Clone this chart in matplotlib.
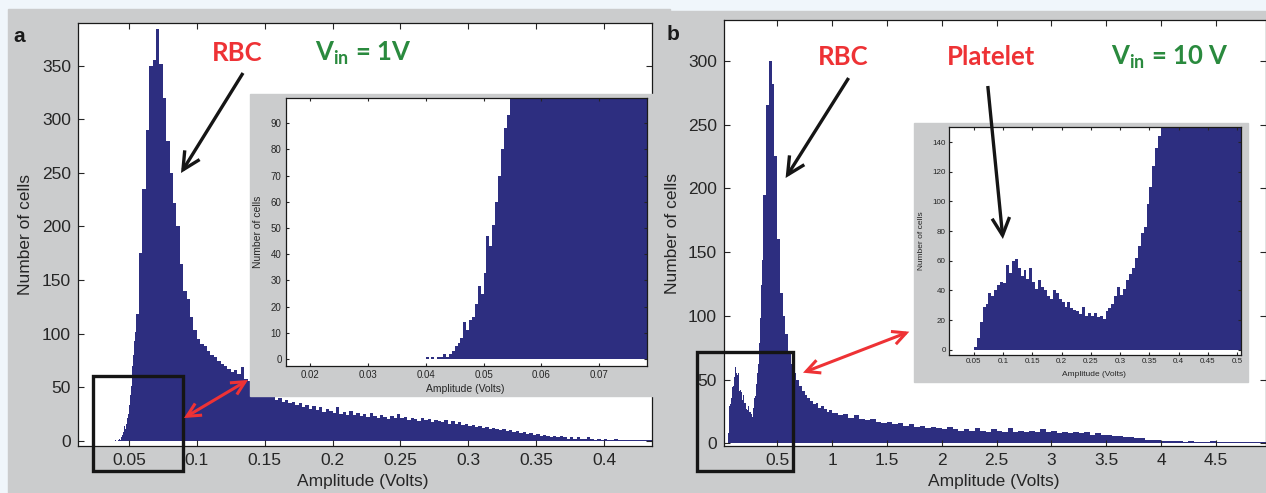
import numpy as np
import matplotlib
matplotlib.use('Agg')
import matplotlib.pyplot as plt
from matplotlib.patches import Rectangle, FancyArrowPatch

W, H = 1266, 493

# panel a (Vin = 1 V): fine bins on the rising edge, coarser bins after
a_fine_start, a_fine_step = 0.040, 0.0005
a_fine_counts = [1, 0, 1, 0, 1, 1, 2, 1, 2, 3,
                 5, 6, 8, 14, 11, 15, 16, 21, 28, 25,
                 33, 47, 43, 51, 60, 70, 80, 88, 93, 101]
a_start, a_step = 0.055, 0.0025
a_counts = [118, 175, 235, 290, 350, 355, 384, 352, 320, 280,
            250, 222, 200, 165, 140, 132, 115, 103, 95, 90,
            88, 84, 80, 78, 74, 72, 70, 67, 64, 66,
            62, 69, 58, 56, 54, 52, 50, 47, 45, 43,
            42, 38, 40, 36, 38, 35, 36, 33, 35, 31,
            33, 30, 32, 29, 31, 27, 30, 28, 26, 31,
            25, 27, 24, 28, 24, 26, 23, 25, 22, 26,
            23, 21, 24, 22, 20, 23, 21, 25, 21, 22,
            19, 21, 20, 18, 21, 19, 20, 17, 19, 18,
            17, 19, 16, 18, 16, 17, 15, 16, 14, 15,
            13, 14, 12, 13, 11, 12, 11, 10, 11, 9,
            10, 8, 9, 7, 8, 6, 7, 5, 6, 4,
            5, 4, 3, 4, 3, 4, 3, 2, 3, 2,
            3, 2, 2, 3, 2, 1, 2, 1, 2, 1,
            1, 2, 1, 1, 1, 1, 1, 1, 1, 1,
            1, 1]

# panel b (Vin = 10 V)
b_fine_start, b_fine_step = 0.050, 0.005
b_fine_counts = [2, 8, 19, 29, 31, 38, 36, 40, 44, 46,
                 45, 57, 52, 60, 61, 55, 50, 54, 48, 55,
                 46, 41, 47, 42, 40, 36, 34, 40, 38, 34,
                 32, 29, 32, 28, 27, 26, 24, 29, 23, 25,
                 23, 25, 22, 23, 21, 26, 28, 31, 36, 42,
                 37, 41, 47, 51, 55, 62, 70, 79, 83, 98,
                 110, 124, 136, 144, 150]
b_mid_start, b_mid_step = 0.375, 0.025
b_mid_counts = [195, 265, 300, 282, 225, 160, 118, 100, 86, 72,
                62, 55, 50, 45, 41, 38, 36, 33, 31, 32,
                28, 29, 27, 25, 26]
b_tail_start, b_tail_step = 1.0, 0.05
b_tail_counts = [24, 22, 23, 20, 22, 19, 18, 19, 17, 16,
                 17, 15, 16, 14, 15, 13, 14, 12, 13, 12,
                 11, 13, 11, 10, 11, 10, 12, 10, 9, 11,
                 10, 9, 12, 9, 10, 9, 10, 9, 11, 9,
                 10, 8, 9, 8, 9, 8, 9, 7, 8, 7,
                 7, 6, 6, 5, 5, 4, 4, 3, 3, 3,
                 2, 2, 2, 2, 1, 2, 1, 1, 1, 2,
                 1, 1, 1, 1, 1, 1, 1, 1, 1, 1]

a_xticks = [0.05, 0.1, 0.15, 0.2, 0.25, 0.3, 0.35, 0.4]
a_yticks = [0, 50, 100, 150, 200, 250, 300, 350]
a_in_xticks = [0.02, 0.03, 0.04, 0.05, 0.06, 0.07]
a_in_yticks = [0, 10, 20, 30, 40, 50, 60, 70, 80, 90]
b_xticks = [0.5, 1, 1.5, 2, 2.5, 3, 3.5, 4, 4.5]
b_yticks = [0, 50, 100, 150, 200, 250, 300]
b_in_xticks = [0.05, 0.1, 0.15, 0.2, 0.25, 0.3, 0.35, 0.4, 0.45, 0.5]
b_in_yticks = [0, 20, 40, 60, 80, 100, 120, 140]

NAVY = '#2d2e80'
GRAY = '#cbcccd'
RED = '#ee3235'
GREEN = '#2a8a3e'
INK = '#262626'


def edges(start, step, n):
    return start + step * np.arange(n + 1)


a_edges = np.concatenate([edges(a_fine_start, a_fine_step, len(a_fine_counts))[:-1],
                          edges(a_start, a_step, len(a_counts))])
a_all = np.array(a_fine_counts + a_counts, dtype=float)
b_edges = np.concatenate([edges(b_fine_start, b_fine_step, len(b_fine_counts))[:-1],
                          edges(b_mid_start, b_mid_step, len(b_mid_counts))[:-1],
                          edges(b_tail_start, b_tail_step, len(b_tail_counts))])
b_all = np.array(b_fine_counts + b_mid_counts + b_tail_counts, dtype=float)

plt.rcParams['font.family'] = ['Liberation Sans', 'DejaVu Sans']
plt.rcParams['mathtext.fontset'] = 'custom'
plt.rcParams['mathtext.rm'] = 'Lato:bold'
plt.rcParams['mathtext.bf'] = 'Lato:bold'

fig = plt.figure(figsize=(W / 100, H / 100), dpi=100, facecolor='#f0f6fb')


def rect(l, t, r, b):
    return [l / W, 1 - b / H, (r - l) / W, (b - t) / H]


def px(x, y):
    return (x / W, 1 - y / H)


def style(ax, fs, ticklen, pad):
    ax.tick_params(direction='in', top=True, right=True, length=ticklen,
                   width=0.8, labelsize=fs, colors=INK, pad=pad)
    for s in ax.spines.values():
        s.set_color('#1a1a1a')
        s.set_linewidth(0.9)


# gray panel backgrounds
fig.add_artist(Rectangle(px(8, 493), 662 / W, 484 / H, transform=fig.transFigure,
                         color=GRAY, zorder=-2))
fig.add_artist(Rectangle(px(670, 493), 596 / W, 482 / H, transform=fig.transFigure,
                         color=GRAY, zorder=-2))

# ---- panel a main
axa = fig.add_axes(rect(78, 23, 651.5, 446), zorder=0)
axa.stairs(a_all, a_edges, fill=True, color=NAVY, lw=0)
axa.set_xlim(0.0125, 0.435)
axa.set_ylim(-5, 390)
axa.set_xticks(a_xticks, [f'{v:g}' for v in a_xticks])
axa.set_yticks(a_yticks)
style(axa, 12.5, 4, 5)
axa.set_xlabel('Amplitude (Volts)', fontsize=12.5, color=INK)
axa.set_ylabel('Number of cells', fontsize=12.5, color=INK)
axa.xaxis.set_label_coords(0.497, -0.066)
axa.yaxis.set_label_coords(-0.078, 0.5)

# ---- panel b main
axb = fig.add_axes(rect(724, 20, 1266, 446), zorder=0)
axb.stairs(b_all, b_edges, fill=True, color=NAVY, lw=0)
axb.set_xlim(0.015, 4.957)
axb.set_ylim(-2, 332)
axb.set_xticks(b_xticks, [f'{v:g}' for v in b_xticks])
axb.set_yticks(b_yticks)
style(axb, 12.5, 4, 5)
axb.set_xlabel('Amplitude (Volts)', fontsize=12.5, color=INK)
axb.set_ylabel('Number of cells', fontsize=12.5, color=INK)
axb.xaxis.set_label_coords(0.498, -0.066)
axb.yaxis.set_label_coords(-0.081, 0.5)

# ---- inset backgrounds
fig.add_artist(Rectangle(px(250, 396), 405 / W, 301.7 / H, transform=fig.transFigure,
                         color=GRAY, zorder=0.5))
fig.add_artist(Rectangle(px(914, 381.7), 334.3 / W, 258.4 / H, transform=fig.transFigure,
                         color=GRAY, zorder=0.5))

# ---- inset a
ia = fig.add_axes(rect(285.7, 98.3, 647.3, 365.7), zorder=1)
ia.stairs(a_all, a_edges, fill=True, color=NAVY, lw=0)
ia.set_xlim(0.0158, 0.0783)
ia.set_ylim(-2.5, 99.5)
ia.set_xticks(a_in_xticks, [f'{v:g}' for v in a_in_xticks])
ia.set_yticks(a_in_yticks)
style(ia, 7, 2.5, 3)
ia.set_xlabel('Amplitude (Volts)', fontsize=7.5, color=INK)
ia.set_ylabel('Number of cells', fontsize=7.5, color=INK)
ia.xaxis.set_label_coords(0.497, -0.068)
ia.yaxis.set_label_coords(-0.064, 0.5)

# ---- inset b
ib = fig.add_axes(rect(949.2, 127.3, 1240.8, 354.8), zorder=1)
ib.stairs(b_all, b_edges, fill=True, color=NAVY, lw=0)
ib.set_xlim(0.008, 0.506)
ib.set_ylim(-3.4, 150)
ib.set_xticks(b_in_xticks, [f'{v:g}' for v in b_in_xticks])
ib.set_yticks(b_in_yticks)
style(ib, 5.8, 2, 2.5)
ib.set_xlabel('Amplitude (Volts)', fontsize=6, color=INK)
ib.set_ylabel('Number of cells', fontsize=6, color=INK)
ib.xaxis.set_label_coords(0.497, -0.071)
ib.yaxis.set_label_coords(-0.082, 0.5)

# ---- zoom boxes
for (l, t, r, b) in [(93.4, 376, 183, 471), (696.7, 352.3, 793.4, 471)]:
    fig.add_artist(Rectangle(px(l, b), (r - l) / W, (b - t) / H, transform=fig.transFigure,
                             fill=False, ec='#151515', lw=2.4, zorder=3))


def arrow(p0, p1, style_, color, lw):
    fig.add_artist(FancyArrowPatch(px(*p0), px(*p1), transform=fig.transFigure,
                                   arrowstyle=style_, color=color, lw=lw, zorder=4,
                                   shrinkA=0, shrinkB=0, mutation_scale=14,
                                   joinstyle='miter', capstyle='butt'))


# black arrows
arrow((243, 73), (181, 173), '->,head_length=0.9,head_width=0.45', '#151515', 2.4)
arrow((848.6, 78), (785.6, 178), '->,head_length=0.9,head_width=0.45', '#151515', 2.4)
arrow((987.8, 86), (1002.9, 239), '->,head_length=0.9,head_width=0.45', '#151515', 2.4)
# red double arrows
arrow((184, 418), (248, 380), '<->,head_length=0.7,head_width=0.35', RED, 2.2)
arrow((803, 372.7), (909.3, 331.7), '<->,head_length=0.7,head_width=0.35', RED, 2.2)

# labels
fig.text(*px(13, 36), 'a', fontsize=15, fontweight='bold', color='#1a1a1a',
         va='center', ha='left')
fig.text(*px(667, 34), 'b', fontsize=15, fontweight='bold', color='#1a1a1a',
         va='center', ha='left')

tkw = dict(fontsize=18.5, fontweight='bold', family=['Lato', 'DejaVu Sans'],
           va='center', ha='center')
fig.text(*px(237, 53), 'RBC', color=RED, **tkw)
fig.text(*px(843.6, 57), 'RBC', color=RED, **tkw)
fig.text(*px(991, 57), 'Platelet', color=RED, **tkw)
fig.text(*px(363, 53), r'V$_{\mathregular{in}}$ = 1V', color=GREEN, **tkw)
fig.text(*px(1170, 57), r'V$_{\mathregular{in}}$ = 10 V', color=GREEN, **tkw)

fig.savefig('out.png', dpi=100, facecolor=fig.get_facecolor())
